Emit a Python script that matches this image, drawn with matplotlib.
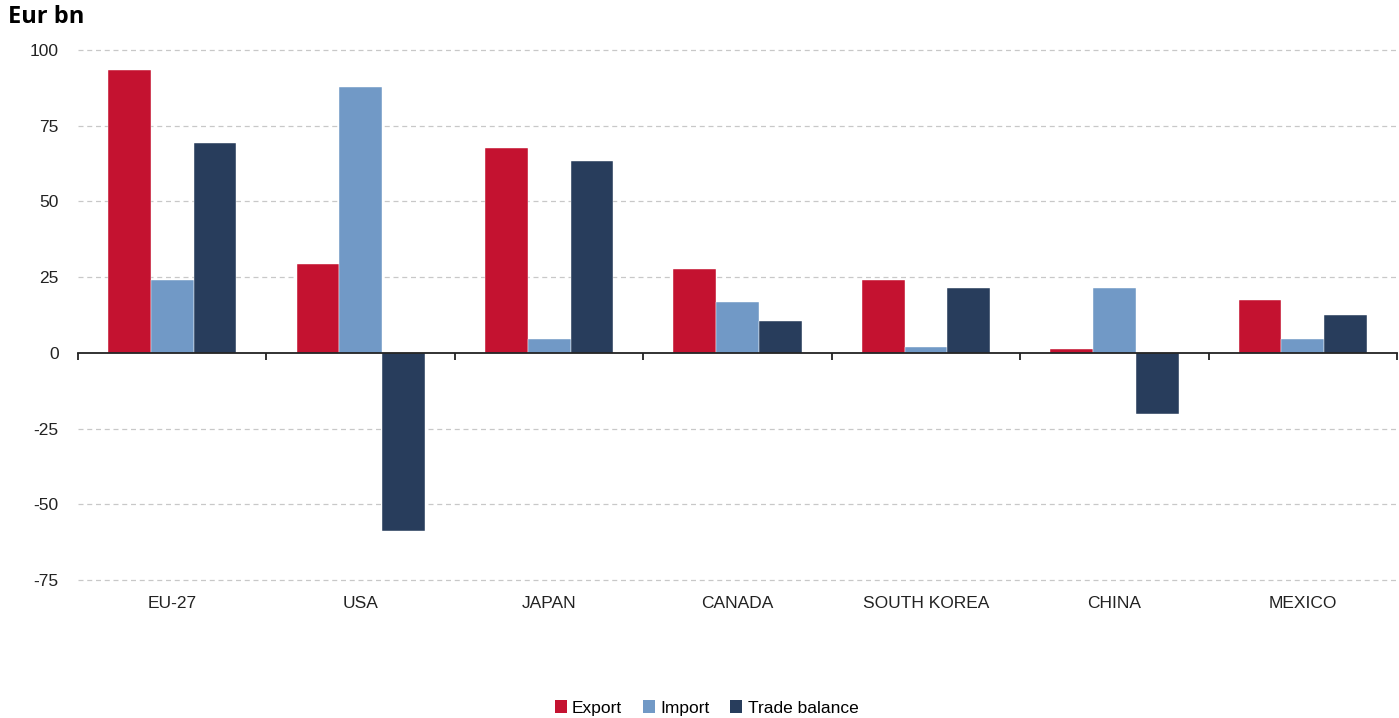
import numpy as np
import matplotlib.pyplot as plt
from matplotlib.patches import Patch

plt.rcParams['font.family'] = ['Liberation Sans', 'DejaVu Sans']

# Dữ liệu thương mại (tỷ EUR)
countries = ['EU-27', 'USA', 'JAPAN', 'CANADA', 'SOUTH KOREA', 'CHINA', 'MEXICO']
export = [93.4, 29.4, 67.7, 27.7, 24.1, 1.3, 17.5]
imports = [24.1, 87.8, 4.6, 16.8, 2.0, 21.5, 4.6]
balance = [69.3, -58.7, 63.4, 10.6, 21.5, -20.1, 12.5]
yticks = [-75, -50, -25, 0, 25, 50, 75, 100]

series = [('Export', export, '#C41230'),
          ('Import', imports, '#7199C6'),
          ('Trade balance', balance, '#283D5C')]

fig = plt.figure(figsize=(13.99, 7.18), dpi=100)
ax = fig.add_axes([0.0558, 0.1922, 0.9428, 0.7382])

x = np.arange(len(countries))
w = 0.227
for i, (name, vals, col) in enumerate(series):
    ax.bar(x + (i - 1) * w, vals, width=w, color=col, edgecolor='white',
           linewidth=0.3, zorder=3)

ax.set_xlim(-0.5, len(countries) - 0.5)
ax.set_ylim(-75, 100)
ax.set_yticks(yticks)
ax.set_yticklabels([str(v) for v in yticks], fontsize=12.5, color='#222222')
ax.tick_params(axis='y', length=0, pad=14)

# Lưới ngang nét đứt
for v in yticks:
    if v != 0:
        ax.axhline(v, color='#c8c8c8', linestyle=(0, (4, 3)), linewidth=0.9,
                   zorder=1, clip_on=False)

# Trục hoành nằm tại 0, vạch chia giữa các nhóm
for s in ['left', 'right', 'top']:
    ax.spines[s].set_visible(False)
ax.spines['bottom'].set_position(('data', 0))
ax.spines['bottom'].set_color('#222222')
ax.spines['bottom'].set_linewidth(1.3)
ax.spines['bottom'].set_zorder(4)
ax.set_xticks(np.arange(len(countries) + 1) - 0.5)
ax.set_xticklabels([])
ax.tick_params(axis='x', direction='out', length=5, width=1.3, color='#222222')

for xi, name in zip(x, countries):
    ax.text(xi, -0.045, name, transform=ax.get_xaxis_transform(),
            ha='center', va='center', fontsize=12.5, color='#222222')

fig.text(0.006, 0.976, 'Eur bn', fontsize=17, fontweight='bold',
         family=['Open Sans', 'DejaVu Sans'], ha='left', va='center')

handles = [Patch(facecolor=c, label=n) for n, _, c in series]
fig.legend(handles=handles, loc='center', bbox_to_anchor=(0.505, 0.014),
           ncol=3, frameon=False, fontsize=12.5, handlelength=0.7,
           handleheight=0.7, handletextpad=0.3, columnspacing=1.2)

fig.savefig('out.png', dpi=100)
